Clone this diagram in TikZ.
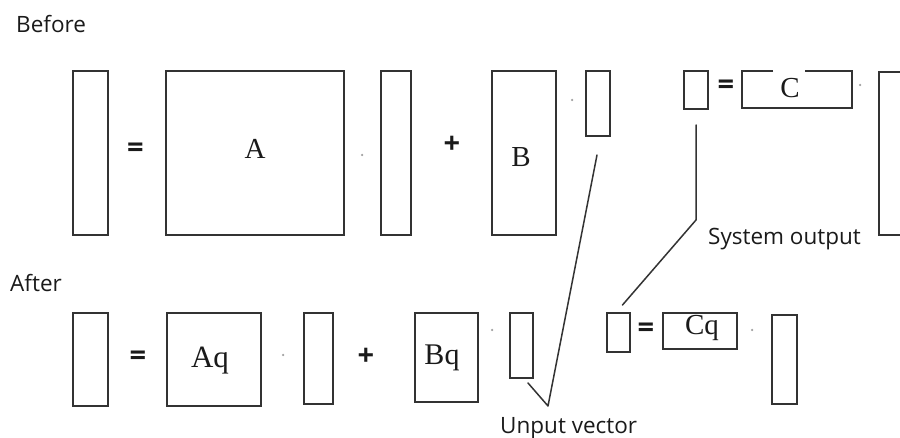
\documentclass[tikz,border=0pt]{standalone}
\usepackage{fontspec}
\setmainfont{Liberation Serif}
\newfontfamily\lblfont{Open Sans}
\definecolor{ink}{HTML}{333333}
\definecolor{txt}{HTML}{1A1A1A}
\definecolor{dotgray}{HTML}{A0A0A0}
\begin{document}
\begin{tikzpicture}[x=1pt,y=-1pt,
  box/.style={draw=ink, line width=1.9pt, inner sep=0pt, outer sep=0pt},
  openbox/.style={inner sep=0pt, outer sep=0pt},
  letter/.style={font=\fontsize{29}{30}\selectfont, text=txt, inner sep=0pt, anchor=base},
  sign/.style={font=\lblfont\bfseries\fontsize{29}{32}\selectfont, text=txt, inner sep=0pt},
  lbl/.style={font=\lblfont\fontsize{22.5}{26}\selectfont, text=txt, inner sep=0pt, anchor=base west},
  dot/.style={circle, fill=dotgray, inner sep=0pt, minimum size=2.5pt},
  wire/.style={draw=ink, line width=1.5pt, line join=round, line cap=round}
]
\useasboundingbox[fill=white] (0,0) rectangle (900,438);

% ---------- Before ----------
\node[lbl] (before) at (16,33) {Before};
\node[box, minimum width=35, minimum height=164] (t1) at (90.5,153) {};
\node[sign] (teq1) at (135.5,150.5) {=};
\node[box, minimum width=178, minimum height=164] (tA) at (255,153) {};
\node[letter] (tAl) at (255,159) {A};
\node[dot] (td1) at (362,155) {};
\node[box, minimum width=30, minimum height=164] (t3) at (396,153) {};
\node[sign] (tplus) at (452,145) {+};
\node[box, minimum width=64, minimum height=164] (tB) at (524,153) {};
\node[letter] (tBl) at (521,167) {B};
\node[dot] (td2) at (572,100) {};
\node[box, minimum width=24, minimum height=65] (tu) at (598,103.5) {};
\node[box, minimum width=24, minimum height=38] (ty) at (696,90) {};
\node[sign] (teq2) at (726,87.5) {=};
\node[openbox, minimum width=110, minimum height=37] (tC) at (797,89.5) {};
\draw[ink, line width=1.9pt, line join=miter]
  ([xshift=31]tC.north west) -- (tC.north west) -- (tC.south west)
  -- (tC.south east) -- (tC.north east) -- ([xshift=-47]tC.north east);
\node[letter] (tCl) at (790,98) {C};
\node[dot] (td3) at (860,85) {};
\node[box, minimum width=40, minimum height=163] (tR) at (899,153.5) {};

% ---------- After ----------
\node[lbl] (after) at (10,292) {After};
\node[box, minimum width=35, minimum height=93] (b1) at (90.5,359.5) {};
\node[sign] (beq1) at (138,358) {=};
\node[box, minimum width=94, minimum height=93] (bA) at (214,359.5) {};
\node[letter, font=\fontsize{31}{32}\selectfont] (bAl) at (210,368) {Aq};
\node[dot] (bd1) at (283,355) {};
\node[box, minimum width=29, minimum height=91] (b3) at (318.5,358.5) {};
\node[sign] (bplus) at (366,357) {+};
\node[box, minimum width=63, minimum height=89] (bB) at (446.5,357.5) {};
\node[letter, font=\fontsize{30}{31}\selectfont] (bBl) at (442,365) {Bq};
\node[dot] (bd2) at (492,330) {};
\node[box, minimum width=23, minimum height=65] (bu) at (521.5,345.5) {};
\node[box, minimum width=23, minimum height=39] (by) at (618.5,332.5) {};
\node[sign] (beq2) at (646,330) {=};
\node[box, minimum width=74, minimum height=36] (bC) at (700,331) {};
\node[letter] (bCl) at (702,335) {Cq};
\node[dot] (bd3) at (752,330) {};
\node[box, minimum width=25, minimum height=89] (bR) at (784.5,359.5) {};

% ---------- annotations ----------
\node[lbl] (sysout) at (708,245) {System output};
\node[lbl] (unput) at (500,433) {Unput vector};
\coordinate (kin) at (548,406);
\coordinate (kout) at (696,220);
\draw[wire] ([shift={(-1,19)}]tu.south) -- (kin) -- ([shift={(6.5,5)}]bu.south);
\draw[wire] ([shift={(0,16)}]ty.south) -- (kout) -- ([shift={(4,-8)}]by.north);
\end{tikzpicture}
\end{document}
